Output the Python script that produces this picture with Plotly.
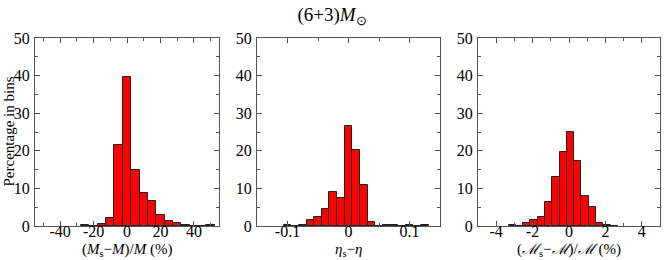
import plotly.graph_objects as go

# Panel 1: (M_s - M)/M (%)
p1_centers = [-25, -20, -15, -10, -5, 0, 5, 10, 15, 20, 25, 30, 35, 40, 45, 50]
p1_values = [0.3, 0.1, 0.6, 2.2, 21.5, 39.6, 14.9, 8.9, 6.6, 2.9, 1.3, 0.9, 0.4, 0.0, 0.0, 0.2]
p1_width = 5

# Panel 2: eta_s - eta
p2_centers = [-0.1, -0.0875, -0.075, -0.0625, -0.05, -0.0375, -0.025, -0.0125, 0.0,
              0.0125, 0.025, 0.0375, 0.05, 0.0625, 0.075, 0.0875, 0.1, 0.1125, 0.125]
p2_values = [0.2, 0.0, 0.4, 1.6, 2.3, 4.4, 9.0, 7.5, 26.6,
             20.2, 11.0, 1.0, 0.0, 0.35, 0.2, 0.0, 0.2, 0.0, 0.4]
p2_width = 0.0125

# Panel 3: (Mc_s - Mc)/Mc (%)
p3_centers = [-3.12, -2.72, -2.32, -1.92, -1.52, -1.12, -0.72, -0.32, 0.08,
              0.48, 0.88, 1.28, 1.68, 2.08, 2.48]
p3_values = [0.2, 0.0, 0.9, 1.5, 2.3, 6.5, 13.0, 19.6, 25.0,
             17.2, 8.0, 5.0, 0.9, 0.15, 0.1]
p3_width = 0.4

x_titles = ["(<i>M</i><sub>s</sub>−<i>M</i>)/<i>M</i> (%)",
            "<i>η</i><sub>s</sub>−<i>η</i>",
            "(<i>ℳ</i><sub>s</sub>−<i>ℳ</i>)/<i>ℳ</i> (%)"]
x_ranges = [[-55, 55], [-0.15, 0.15], [-5, 5]]
x_minor = [10, 0.05, 1]
x_tickvals = [[-40, -20, 0, 20, 40], [-0.1, 0, 0.1], [-4, -2, 0, 2, 4]]
x_ticktext = [["-40", "-20", "0", "20", "40"], ["-0.1", "0", "0.1"], ["-4", "-2", "0", "2", "4"]]
y_tickvals = [0, 10, 20, 30, 40, 50]
y_title = "Percentage in bins"
title = "(6+3)<i>M</i><sub>⊙</sub>"

domains = [[0.0, 0.2944], [0.3552, 0.648], [0.7088, 1.0]]

FONT = "Liberation Serif, Times New Roman, serif"
FRAME = "#555555"

fig = go.Figure()
data = [(p1_centers, p1_values, p1_width), (p2_centers, p2_values, p2_width), (p3_centers, p3_values, p3_width)]
for i, (cx, vals, w) in enumerate(data):
    sfx = "" if i == 0 else str(i + 1)
    fig.add_trace(go.Bar(
        x=cx, y=vals, width=w,
        marker=dict(color="#ff0000", line=dict(color="#222222", width=1)),
        xaxis="x" + sfx, yaxis="y" + sfx, showlegend=False,
    ))
    axis_common = dict(
        showline=True, linecolor=FRAME, linewidth=1, mirror="allticks",
        ticks="inside", ticklen=5, tickcolor=FRAME, tickwidth=1,
        showgrid=False, zeroline=False, automargin=False,
        tickfont=dict(family=FONT, size=16, color="black"),
    )
    fig.layout["xaxis" + sfx] = dict(
        axis_common, domain=domains[i], range=x_ranges[i], anchor="y" + sfx,
        tickvals=x_tickvals[i], ticktext=x_ticktext[i], ticklabelstandoff=-9,
        minor=dict(dtick=x_minor[i], tick0=0, ticks="inside", ticklen=3, tickcolor=FRAME),
    )
    fig.layout["yaxis" + sfx] = dict(
        axis_common, domain=[0, 1], range=[0, 50], anchor="x" + sfx,
        tickvals=y_tickvals, ticklabelstandoff=1,
        minor=dict(dtick=5, tick0=0, ticks="inside", ticklen=3, tickcolor=FRAME),
    )
    fig.add_annotation(
        text=x_titles[i], xref=("x" + sfx) + " domain", yref="paper",
        x=0.5, y=-0.128, xanchor="center", yanchor="middle", showarrow=False,
        font=dict(family=FONT, size=15, color="black"),
    )

fig.add_annotation(
    text=y_title, xref="paper", yref="paper", x=-0.0424, y=0.5,
    xanchor="center", yanchor="middle", textangle=-90, showarrow=False,
    font=dict(family=FONT, size=15, color="black"),
)

fig.update_layout(
    width=664, height=260,
    margin=dict(l=35, r=4, t=38, b=34, autoexpand=False),
    paper_bgcolor="white", plot_bgcolor="white",
    bargap=0,
    title=dict(text=title, x=0.5, xanchor="center", y=0.97, yanchor="top",
               automargin=False, font=dict(family=FONT, size=19, color="black")),
)

fig.write_html("out.html", config={"displayModeBar": False},
               post_script="document.body.style.margin='0';document.body.style.overflow='hidden';")
